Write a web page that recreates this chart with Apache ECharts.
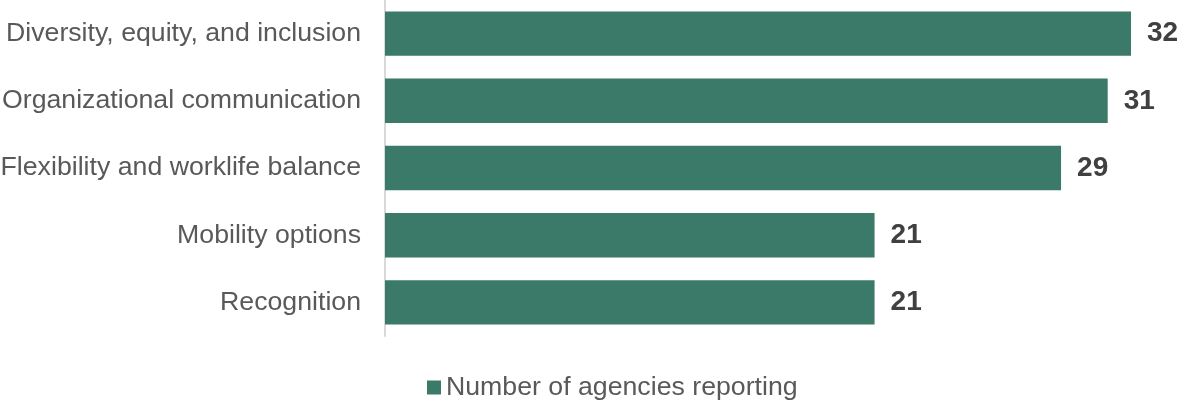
<!DOCTYPE html>
<html>
<head>
<meta charset="utf-8">
<script src="https://cdn.jsdelivr.net/npm/echarts@6/dist/echarts.min.js"></script>
<style>
  html, body { margin: 0; padding: 0; background: #fff; }
  #chart { width: 1181px; height: 402px; }
</style>
</head>
<body>
<div id="chart"></div>
<script>
// categories top to bottom
const categories = [
  'Diversity, equity, and inclusion',
  'Organizational communication',
  'Flexibility and worklife balance',
  'Mobility options',
  'Recognition',
];
const agencyCounts = [32, 31, 29, 21, 21];
const seriesName = 'Number of agencies reporting';

const barColor = '#3b7a68';
const fontFamily = '"Liberation Sans", Arial, sans-serif';

const chart = echarts.init(document.getElementById('chart'));
chart.setOption({
  animation: false,
  grid: {
    left: 385,
    top: 0,
    width: 746,
    height: 336,
    containLabel: false,
    outerBoundsMode: 'none',
  },
  legend: {
    data: [seriesName],
    top: 369,
    left: 422,
    itemWidth: 14,
    itemHeight: 14,
    itemGap: 6,
    icon: 'rect',
    textStyle: { fontFamily, fontSize: 26.7, color: '#595959', padding: [0, 0, 0, 0] },
  },
  xAxis: {
    type: 'value',
    min: 0,
    max: 32,
    show: false,
  },
  yAxis: {
    type: 'category',
    inverse: true,
    data: categories,
    axisLine: { show: true, lineStyle: { color: '#d9d9d9', width: 2 } },
    axisTick: { show: false },
    axisLabel: {
      fontFamily,
      fontSize: 26.7,
      color: '#595959',
      margin: 24,
    },
  },
  series: [
    {
      name: seriesName,
      type: 'bar',
      data: agencyCounts,
      barCategoryGap: '34%',
      itemStyle: { color: barColor },
      label: {
        show: true,
        position: 'right',
        distance: 16,
        fontFamily,
        fontSize: 28,
        fontWeight: 'bold',
        color: '#404040',
      },
    },
  ],
});
</script>
</body>
</html>
